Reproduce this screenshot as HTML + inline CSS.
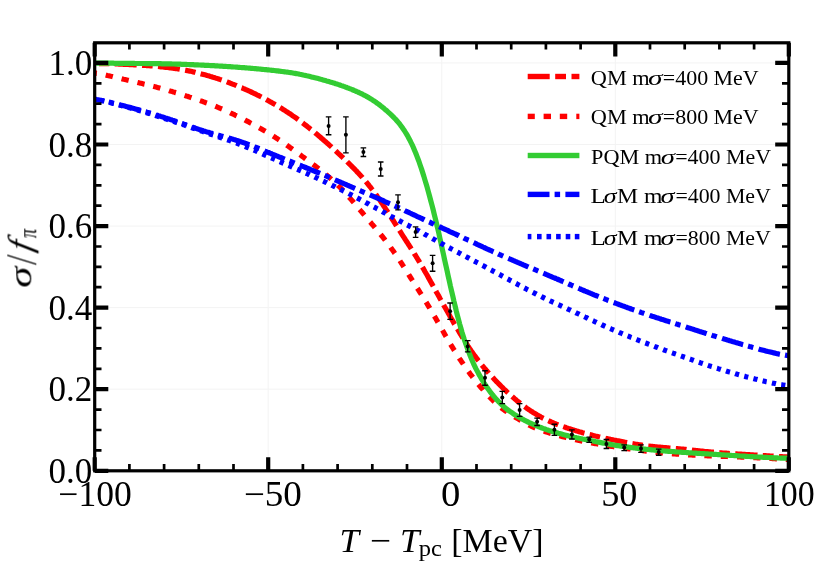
<!DOCTYPE html>
<html lang="en"><head><meta charset="utf-8"><title>sigma / f_pi vs T - T_pc</title>
<style>html,body{margin:0;padding:0;background:#fff;}svg{display:block;}text{font-family:"Liberation Serif","DejaVu Serif",serif;fill:#000;}.it{font-style:italic;}</style></head><body>
<svg width="814" height="564" viewBox="0 0 814 564">
<rect width="814" height="564" fill="#fff"/>
<g stroke="#f3f3f3" stroke-width="1" fill="none">
<line x1="268.2" y1="42.8" x2="268.2" y2="470.8"/>
<line x1="441.8" y1="42.8" x2="441.8" y2="470.8"/>
<line x1="615.3" y1="42.8" x2="615.3" y2="470.8"/>
<line x1="94.7" y1="389.2" x2="788.8" y2="389.2"/>
<line x1="94.7" y1="307.6" x2="788.8" y2="307.6"/>
<line x1="94.7" y1="226.1" x2="788.8" y2="226.1"/>
<line x1="94.7" y1="144.5" x2="788.8" y2="144.5"/>
<line x1="94.7" y1="62.9" x2="788.8" y2="62.9"/>
</g>
<clipPath id="c"><rect x="94.7" y="42.8" width="694.1" height="428.0"/></clipPath>
<g clip-path="url(#c)" fill="none" stroke-width="5.2" stroke-linejoin="round">
<path stroke="#ff0000" stroke-dasharray="22 5.4 10.6 5.3" stroke-dashoffset="23.16" d="M94.7 63.5 L95.9 63.5 L97.0 63.5 L98.2 63.6 L99.3 63.6 L100.5 63.6 L101.7 63.6 L102.8 63.6 L104.0 63.6 L105.1 63.7 L106.3 63.7 L107.4 63.7 L108.6 63.7 L109.8 63.8 L110.9 63.8 L112.1 63.8 L113.2 63.9 L114.4 63.9 L115.6 64.0 L116.7 64.0 L117.9 64.0 L119.0 64.1 L120.2 64.1 L121.4 64.2 L122.5 64.2 L123.7 64.3 L124.8 64.3 L126.0 64.4 L127.1 64.5 L128.3 64.5 L129.5 64.6 L130.6 64.6 L131.8 64.7 L132.9 64.7 L134.1 64.8 L135.3 64.9 L136.4 64.9 L137.6 65.0 L138.7 65.0 L139.9 65.1 L141.1 65.2 L142.2 65.3 L143.4 65.3 L144.5 65.4 L145.7 65.5 L146.8 65.6 L148.0 65.6 L149.2 65.7 L150.3 65.8 L151.5 65.9 L152.6 66.0 L153.8 66.1 L155.0 66.2 L156.1 66.3 L157.3 66.4 L158.4 66.5 L159.6 66.7 L160.7 66.8 L161.9 66.9 L163.1 67.0 L164.2 67.2 L165.4 67.3 L166.5 67.4 L167.7 67.5 L168.9 67.7 L170.0 67.8 L171.2 68.0 L172.3 68.1 L173.5 68.3 L174.7 68.4 L175.8 68.6 L177.0 68.8 L178.1 69.0 L179.3 69.1 L180.4 69.3 L181.6 69.5 L182.8 69.7 L183.9 69.9 L185.1 70.2 L186.2 70.4 L187.4 70.6 L188.6 70.9 L189.7 71.1 L190.9 71.3 L192.0 71.6 L193.2 71.9 L194.4 72.1 L195.5 72.4 L196.7 72.7 L197.8 73.0 L199.0 73.3 L200.1 73.6 L201.3 73.9 L202.5 74.2 L203.6 74.5 L204.8 74.8 L205.9 75.1 L207.1 75.5 L208.3 75.8 L209.4 76.1 L210.6 76.5 L211.7 76.8 L212.9 77.2 L214.1 77.5 L215.2 77.9 L216.4 78.3 L217.5 78.6 L218.7 79.0 L219.8 79.4 L221.0 79.8 L222.2 80.2 L223.3 80.6 L224.5 81.0 L225.6 81.4 L226.8 81.9 L228.0 82.3 L229.1 82.7 L230.3 83.2 L231.4 83.6 L232.6 84.1 L233.8 84.5 L234.9 85.0 L236.1 85.4 L237.2 85.9 L238.4 86.4 L239.5 86.9 L240.7 87.4 L241.9 87.8 L243.0 88.3 L244.2 88.8 L245.3 89.4 L246.5 89.9 L247.7 90.4 L248.8 90.9 L250.0 91.4 L251.1 92.0 L252.3 92.5 L253.5 93.1 L254.6 93.6 L255.8 94.2 L256.9 94.8 L258.1 95.3 L259.2 95.9 L260.4 96.5 L261.6 97.1 L262.7 97.7 L263.9 98.3 L265.0 98.9 L266.2 99.6 L267.4 100.2 L268.5 100.8 L269.7 101.5 L270.8 102.1 L272.0 102.8 L273.1 103.4 L274.3 104.1 L275.5 104.8 L276.6 105.5 L277.8 106.1 L278.9 106.8 L280.1 107.5 L281.3 108.2 L282.4 109.0 L283.6 109.7 L284.7 110.4 L285.9 111.2 L287.1 111.9 L288.2 112.7 L289.4 113.4 L290.5 114.2 L291.7 115.0 L292.8 115.8 L294.0 116.6 L295.2 117.4 L296.3 118.2 L297.5 119.1 L298.6 119.9 L299.8 120.8 L301.0 121.6 L302.1 122.5 L303.3 123.4 L304.4 124.3 L305.6 125.2 L306.8 126.1 L307.9 127.0 L309.1 127.9 L310.2 128.9 L311.4 129.8 L312.5 130.7 L313.7 131.7 L314.9 132.6 L316.0 133.6 L317.2 134.6 L318.3 135.5 L319.5 136.5 L320.7 137.5 L321.8 138.5 L323.0 139.5 L324.1 140.5 L325.3 141.5 L326.5 142.5 L327.6 143.6 L328.8 144.6 L329.9 145.6 L331.1 146.7 L332.2 147.7 L333.4 148.8 L334.6 149.9 L335.7 150.9 L336.9 152.0 L338.0 153.1 L339.2 154.2 L340.4 155.2 L341.5 156.3 L342.7 157.4 L343.8 158.5 L345.0 159.6 L346.2 160.8 L347.3 161.9 L348.5 163.0 L349.6 164.2 L350.8 165.3 L351.9 166.5 L353.1 167.6 L354.3 168.8 L355.4 170.0 L356.6 171.2 L357.7 172.5 L358.9 173.7 L360.1 175.0 L361.2 176.2 L362.4 177.5 L363.5 178.9 L364.7 180.2 L365.9 181.6 L367.0 183.0 L368.2 184.4 L369.3 185.9 L370.5 187.3 L371.6 188.8 L372.8 190.3 L374.0 191.9 L375.1 193.4 L376.3 195.0 L377.4 196.7 L378.6 198.3 L379.8 200.0 L380.9 201.7 L382.1 203.4 L383.2 205.2 L384.4 206.9 L385.5 208.7 L386.7 210.4 L387.9 212.2 L389.0 214.0 L390.2 215.8 L391.3 217.6 L392.5 219.5 L393.7 221.3 L394.8 223.1 L396.0 225.0 L397.1 226.8 L398.3 228.6 L399.5 230.4 L400.6 232.2 L401.8 234.1 L402.9 235.8 L404.1 237.6 L405.2 239.4 L406.4 241.2 L407.6 243.0 L408.7 244.8 L409.9 246.6 L411.0 248.4 L412.2 250.3 L413.4 252.1 L414.5 254.0 L415.7 255.8 L416.8 257.7 L418.0 259.6 L419.2 261.5 L420.3 263.5 L421.5 265.5 L422.6 267.4 L423.8 269.4 L424.9 271.5 L426.1 273.5 L427.3 275.5 L428.4 277.6 L429.6 279.7 L430.7 281.8 L431.9 283.9 L433.1 286.0 L434.2 288.0 L435.4 290.1 L436.5 292.2 L437.7 294.3 L438.9 296.4 L440.0 298.5 L441.2 300.5 L442.3 302.6 L443.5 304.7 L443.7 305.0"/>
<path stroke="#ff0000" stroke-dasharray="22.2 5.4 10.7 5.4" d="M443.7 305.0 L444.6 306.7 L445.8 308.8 L447.0 310.8 L448.1 312.9 L449.3 314.9 L450.4 317.0 L451.6 319.0 L452.8 321.0 L453.9 323.1 L455.1 325.1 L456.2 327.1 L457.4 329.0 L458.6 331.0 L459.7 332.9 L460.9 334.8 L462.0 336.7 L463.2 338.6 L464.3 340.5 L465.5 342.3 L466.7 344.1 L467.8 345.9 L469.0 347.6 L470.1 349.3 L471.3 351.0 L472.5 352.6 L473.6 354.3 L474.8 355.8 L475.9 357.4 L477.1 358.9 L478.3 360.5 L479.4 361.9 L480.6 363.4 L481.7 364.8 L482.9 366.3 L484.0 367.7 L485.2 369.0 L486.4 370.4 L487.5 371.7 L488.7 373.0 L489.8 374.3 L491.0 375.6 L492.2 376.9 L493.3 378.1 L494.5 379.4 L495.6 380.6 L496.8 381.8 L498.0 383.0 L499.1 384.2 L500.3 385.4 L501.4 386.5 L502.6 387.7 L503.7 388.8 L504.9 389.9 L506.1 391.0 L507.2 392.1 L508.4 393.2 L509.5 394.3 L510.7 395.3 L511.9 396.3 L513.0 397.3 L514.2 398.3 L515.3 399.3 L516.5 400.3 L517.6 401.3 L518.8 402.2 L520.0 403.1 L521.1 404.0 L522.3 404.9 L523.4 405.8 L524.6 406.6 L525.8 407.5 L526.9 408.3 L528.1 409.1 L529.2 409.9 L530.4 410.7 L531.6 411.4 L532.7 412.2 L533.9 412.9 L535.0 413.6 L536.2 414.3 L537.3 415.0 L538.5 415.7 L539.7 416.3 L540.8 417.0 L542.0 417.6 L543.1 418.2 L544.3 418.8 L545.5 419.3 L546.6 419.9 L547.8 420.5 L548.9 421.0 L550.1 421.5 L551.3 422.0 L552.4 422.5 L553.6 423.0 L554.7 423.5 L555.9 424.0 L557.0 424.4 L558.2 424.9 L559.4 425.3 L560.5 425.7 L561.7 426.1 L562.8 426.5 L564.0 426.9 L565.2 427.3 L566.3 427.7 L567.5 428.1 L568.6 428.5 L569.8 428.8 L571.0 429.2 L572.1 429.6 L573.3 429.9 L574.4 430.3 L575.6 430.6 L576.7 431.0 L577.9 431.3 L579.1 431.7 L580.2 432.0 L581.4 432.3 L582.5 432.7 L583.7 433.0 L584.9 433.3 L586.0 433.6 L587.2 433.9 L588.3 434.3 L589.5 434.6 L590.7 434.8 L591.8 435.1 L593.0 435.4 L594.1 435.7 L595.3 436.0 L596.4 436.2 L597.6 436.5 L598.8 436.8 L599.9 437.0 L601.1 437.3 L602.2 437.5 L603.4 437.8 L604.6 438.0 L605.7 438.3 L606.9 438.5 L608.0 438.8 L609.2 439.0 L610.4 439.3 L611.5 439.5 L612.7 439.7 L613.8 440.0 L615.0 440.2 L616.1 440.4 L617.3 440.7 L618.5 440.9 L619.6 441.1 L620.8 441.4 L621.9 441.6 L623.1 441.8 L624.3 442.1 L625.4 442.3 L626.6 442.5 L627.7 442.7 L628.9 442.9 L630.0 443.2 L631.2 443.4 L632.4 443.6 L633.5 443.8 L634.7 444.0 L635.8 444.2 L637.0 444.4 L638.2 444.6 L639.3 444.8 L640.5 444.9 L641.6 445.1 L642.8 445.3 L644.0 445.4 L645.1 445.6 L646.3 445.8 L647.4 445.9 L648.6 446.0 L649.7 446.2 L650.9 446.3 L652.1 446.4 L653.2 446.6 L654.4 446.7 L655.5 446.8 L656.7 446.9 L657.9 447.0 L659.0 447.1 L660.2 447.2 L661.3 447.3 L662.5 447.4 L663.7 447.5 L664.8 447.6 L666.0 447.7 L667.1 447.8 L668.3 447.9 L669.4 448.0 L670.6 448.1 L671.8 448.2 L672.9 448.3 L674.1 448.4 L675.2 448.5 L676.4 448.6 L677.6 448.7 L678.7 448.8 L679.9 448.9 L681.0 449.0 L682.2 449.1 L683.4 449.2 L684.5 449.3 L685.7 449.4 L686.8 449.6 L688.0 449.7 L689.1 449.8 L690.3 449.9 L691.5 450.0 L692.6 450.2 L693.8 450.3 L694.9 450.4 L696.1 450.5 L697.3 450.6 L698.4 450.8 L699.6 450.9 L700.7 451.0 L701.9 451.1 L703.1 451.2 L704.2 451.4 L705.4 451.5 L706.5 451.6 L707.7 451.7 L708.8 451.8 L710.0 451.9 L711.2 452.0 L712.3 452.1 L713.5 452.2 L714.6 452.3 L715.8 452.4 L717.0 452.5 L718.1 452.6 L719.3 452.7 L720.4 452.8 L721.6 452.9 L722.8 453.0 L723.9 453.1 L725.1 453.2 L726.2 453.2 L727.4 453.3 L728.5 453.4 L729.7 453.5 L730.9 453.5 L732.0 453.6 L733.2 453.7 L734.3 453.8 L735.5 453.8 L736.7 453.9 L737.8 454.0 L739.0 454.1 L740.1 454.1 L741.3 454.2 L742.4 454.3 L743.6 454.3 L744.8 454.4 L745.9 454.5 L747.1 454.5 L748.2 454.6 L749.4 454.7 L750.6 454.8 L751.7 454.8 L752.9 454.9 L754.0 455.0 L755.2 455.0 L756.4 455.1 L757.5 455.2 L758.7 455.3 L759.8 455.3 L761.0 455.4 L762.1 455.5 L763.3 455.5 L764.5 455.6 L765.6 455.7 L766.8 455.8 L767.9 455.8 L769.1 455.9 L770.3 456.0 L771.4 456.1 L772.6 456.1 L773.7 456.2 L774.9 456.3 L776.1 456.4 L777.2 456.4 L778.4 456.5 L779.5 456.6 L780.7 456.7 L781.8 456.7 L783.0 456.8 L784.2 456.8 L785.3 456.9 L786.5 456.9 L787.6 457.0 L788.8 457.2"/>
<path stroke="#ff0000" stroke-dasharray="7.3 9" stroke-dashoffset="4.88" d="M94.7 72.5 L95.9 73.3 L97.0 73.4 L98.2 73.6 L99.3 73.8 L100.5 74.0 L101.7 74.2 L102.8 74.4 L104.0 74.7 L105.1 74.9 L106.3 75.2 L107.4 75.5 L108.6 75.7 L109.8 76.0 L110.9 76.3 L112.1 76.5 L113.2 76.8 L114.4 77.1 L115.6 77.4 L116.7 77.6 L117.9 77.9 L119.0 78.2 L120.2 78.4 L121.4 78.7 L122.5 79.0 L123.7 79.3 L124.8 79.5 L126.0 79.8 L127.1 80.1 L128.3 80.3 L129.5 80.6 L130.6 80.9 L131.8 81.2 L132.9 81.4 L134.1 81.7 L135.3 82.0 L136.4 82.2 L137.6 82.5 L138.7 82.8 L139.9 83.1 L141.1 83.3 L142.2 83.6 L143.4 83.9 L144.5 84.2 L145.7 84.4 L146.8 84.7 L148.0 85.0 L149.2 85.3 L150.3 85.6 L151.5 85.9 L152.6 86.2 L153.8 86.5 L155.0 86.8 L156.1 87.1 L157.3 87.4 L158.4 87.7 L159.6 88.0 L160.7 88.3 L161.9 88.6 L163.1 89.0 L164.2 89.3 L165.4 89.6 L166.5 89.9 L167.7 90.3 L168.9 90.6 L170.0 91.0 L171.2 91.3 L172.3 91.6 L173.5 92.0 L174.7 92.3 L175.8 92.7 L177.0 93.0 L178.1 93.4 L179.3 93.8 L180.4 94.1 L181.6 94.5 L182.8 94.8 L183.9 95.2 L185.1 95.6 L186.2 96.0 L187.4 96.3 L188.6 96.7 L189.7 97.1 L190.9 97.5 L192.0 97.9 L193.2 98.2 L194.4 98.6 L195.5 99.0 L196.7 99.4 L197.8 99.8 L199.0 100.2 L200.1 100.6 L201.3 101.0 L202.5 101.4 L203.6 101.9 L204.8 102.3 L205.9 102.7 L207.1 103.1 L208.3 103.6 L209.4 104.0 L210.6 104.4 L211.7 104.9 L212.9 105.3 L214.1 105.8 L215.2 106.2 L216.4 106.7 L217.5 107.2 L218.7 107.7 L219.8 108.1 L221.0 108.6 L222.2 109.1 L223.3 109.6 L224.5 110.1 L225.6 110.7 L226.8 111.2 L228.0 111.7 L229.1 112.2 L230.3 112.8 L231.4 113.3 L232.6 113.9 L233.8 114.4 L234.9 115.0 L236.1 115.6 L237.2 116.1 L238.4 116.7 L239.5 117.3 L240.7 117.9 L241.9 118.4 L243.0 119.0 L244.2 119.6 L245.3 120.2 L246.5 120.8 L247.7 121.4 L248.8 122.0 L250.0 122.7 L251.1 123.3 L252.3 123.9 L253.5 124.5 L254.6 125.2 L255.8 125.8 L256.9 126.4 L258.1 127.1 L259.2 127.7 L260.4 128.4 L261.6 129.1 L262.7 129.7 L263.9 130.4 L265.0 131.1 L266.2 131.8 L267.4 132.5 L268.5 133.2 L269.7 133.9 L270.8 134.6 L272.0 135.3 L273.1 136.0 L274.3 136.8 L275.5 137.5 L276.6 138.3 L277.8 139.0 L278.9 139.8 L280.1 140.6 L281.3 141.3 L282.4 142.1 L283.6 142.9 L284.7 143.7 L285.9 144.5 L287.1 145.4 L288.2 146.2 L289.4 147.0 L290.5 147.8 L291.7 148.7 L292.8 149.5 L294.0 150.4 L295.2 151.2 L296.3 152.0 L297.5 152.9 L298.6 153.7 L299.8 154.6 L301.0 155.4 L302.1 156.3 L303.3 157.1 L304.4 158.0 L305.6 158.8 L306.8 159.7 L307.9 160.5 L309.1 161.4 L310.2 162.2 L311.4 163.1 L312.5 164.0 L313.7 164.9 L314.9 165.7 L316.0 166.6 L317.2 167.5 L318.3 168.4 L319.5 169.3 L320.7 170.2 L321.8 171.2 L323.0 172.1 L324.1 173.0 L325.3 174.0 L326.5 175.0 L327.6 175.9 L328.8 176.9 L329.9 177.9 L331.1 178.9 L332.2 179.9 L333.4 181.0 L334.6 182.1 L335.7 183.1 L336.9 184.2 L338.0 185.4 L339.2 186.5 L340.4 187.7 L341.5 188.8 L342.7 190.1 L343.8 191.3 L345.0 192.5 L346.2 193.8 L347.3 195.1 L348.5 196.4 L349.6 197.7 L350.8 199.1 L351.9 200.4 L353.1 201.8 L354.3 203.2 L355.4 204.6 L356.6 205.9 L357.7 207.3 L358.9 208.7 L360.1 210.1 L361.2 211.4 L362.4 212.8 L363.5 214.1 L364.7 215.5 L365.9 216.9 L367.0 218.2 L368.2 219.6 L369.3 221.0 L370.5 222.3 L371.6 223.7 L372.8 225.1 L374.0 226.4 L375.1 227.8 L376.3 229.2 L377.4 230.6 L378.6 232.0 L379.8 233.4 L380.9 234.8 L382.1 236.2 L383.2 237.6 L384.4 239.1 L385.5 240.6 L386.7 242.1 L387.9 243.6 L389.0 245.2 L390.2 246.8 L391.3 248.4 L392.5 250.0 L393.7 251.6 L394.8 253.3 L396.0 254.9 L397.1 256.6 L398.3 258.4 L399.5 260.1 L400.6 261.9 L401.8 263.7 L402.9 265.5 L404.1 267.3 L405.2 269.1 L406.4 271.0 L407.6 272.8 L408.7 274.6 L409.9 276.5 L411.0 278.3 L412.2 280.1 L413.4 282.0 L414.5 283.8 L415.7 285.6 L416.8 287.4 L418.0 289.2 L419.2 291.1 L420.3 292.9 L421.5 294.7 L422.6 296.6 L423.8 298.4 L424.9 300.3 L426.1 302.2 L427.3 304.1 L428.4 306.0 L429.6 307.9 L430.7 309.8 L431.9 311.8 L433.1 313.8 L434.2 315.8 L435.4 317.8 L436.5 319.8 L437.7 321.9 L438.9 323.9 L440.0 325.9 L441.2 328.0 L442.3 330.0 L443.5 332.0 L444.6 334.1 L445.8 336.1 L447.0 338.1 L448.1 340.1 L449.3 342.1 L450.4 344.0 L451.6 346.0 L452.8 347.9 L453.9 349.8 L455.1 351.6 L456.2 353.5 L457.4 355.3 L458.6 357.1 L459.7 358.9 L460.9 360.6 L462.0 362.3 L463.2 364.0 L464.3 365.7 L465.5 367.4 L466.7 369.0 L467.8 370.6 L469.0 372.2 L470.1 373.8 L471.3 375.3 L472.5 376.9 L473.6 378.4 L474.8 379.9 L475.9 381.3 L477.1 382.8 L478.3 384.2 L479.4 385.6 L480.6 387.0 L481.7 388.3 L482.9 389.6 L484.0 391.0 L485.2 392.3 L486.4 393.5 L487.5 394.8 L488.7 396.0 L489.8 397.2 L491.0 398.4 L492.2 399.6 L493.3 400.8 L494.5 401.9 L495.6 403.0 L496.8 404.0 L498.0 405.0 L499.1 406.0 L500.3 407.0 L501.4 407.9 L502.6 408.8 L503.7 409.7 L504.9 410.5 L506.1 411.3 L507.2 412.1 L508.4 412.9 L509.5 413.7 L510.7 414.4 L511.9 415.1 L513.0 415.8 L514.2 416.5 L515.3 417.2 L516.5 417.9 L517.6 418.6 L518.8 419.3 L520.0 420.0 L521.1 420.7 L522.3 421.3 L523.4 422.0 L524.6 422.6 L525.8 423.3 L526.9 423.9 L528.1 424.5 L529.2 425.1 L530.4 425.7 L531.6 426.3 L532.7 426.8 L533.9 427.4 L535.0 427.9 L536.2 428.4 L537.3 428.8 L538.5 429.3 L539.7 429.7 L540.8 430.1 L542.0 430.5 L543.1 430.9 L544.3 431.3 L545.5 431.7 L546.6 432.1 L547.8 432.4 L548.9 432.8 L550.1 433.2 L551.3 433.5 L552.4 433.8 L553.6 434.2 L554.7 434.5 L555.9 434.9 L557.0 435.2 L558.2 435.5 L559.4 435.8 L560.5 436.1 L561.7 436.4 L562.8 436.7 L564.0 437.0 L565.2 437.3 L566.3 437.6 L567.5 437.9 L568.6 438.2 L569.8 438.4 L571.0 438.7 L572.1 439.0 L573.3 439.2 L574.4 439.5 L575.6 439.8 L576.7 440.0 L577.9 440.2 L579.1 440.5 L580.2 440.7 L581.4 441.0 L582.5 441.2 L583.7 441.4 L584.9 441.7 L586.0 441.9 L587.2 442.1 L588.3 442.3 L589.5 442.5 L590.7 442.8 L591.8 443.0 L593.0 443.2 L594.1 443.4 L595.3 443.6 L596.4 443.8 L597.6 444.0 L598.8 444.2 L599.9 444.4 L601.1 444.6 L602.2 444.8 L603.4 445.0 L604.6 445.2 L605.7 445.4 L606.9 445.6 L608.0 445.8 L609.2 446.0 L610.4 446.2 L611.5 446.4 L612.7 446.5 L613.8 446.7 L615.0 446.9 L616.1 447.1 L617.3 447.2 L618.5 447.4 L619.6 447.6 L620.8 447.7 L621.9 447.9 L623.1 448.1 L624.3 448.2 L625.4 448.4 L626.6 448.6 L627.7 448.7 L628.9 448.9 L630.0 449.0 L631.2 449.2 L632.4 449.3 L633.5 449.5 L634.7 449.6 L635.8 449.8 L637.0 449.9 L638.2 450.1 L639.3 450.2 L640.5 450.4 L641.6 450.5 L642.8 450.7 L644.0 450.8 L645.1 450.9 L646.3 451.1 L647.4 451.2 L648.6 451.4 L649.7 451.5 L650.9 451.6 L652.1 451.8 L653.2 451.9 L654.4 452.0 L655.5 452.1 L656.7 452.3 L657.9 452.4 L659.0 452.5 L660.2 452.6 L661.3 452.8 L662.5 452.9 L663.7 453.0 L664.8 453.1 L666.0 453.2 L667.1 453.3 L668.3 453.4 L669.4 453.5 L670.6 453.6 L671.8 453.7 L672.9 453.8 L674.1 453.9 L675.2 454.0 L676.4 454.1 L677.6 454.1 L678.7 454.2 L679.9 454.3 L681.0 454.4 L682.2 454.5 L683.4 454.5 L684.5 454.6 L685.7 454.7 L686.8 454.7 L688.0 454.8 L689.1 454.9 L690.3 454.9 L691.5 455.0 L692.6 455.1 L693.8 455.1 L694.9 455.2 L696.1 455.2 L697.3 455.3 L698.4 455.3 L699.6 455.4 L700.7 455.4 L701.9 455.5 L703.1 455.6 L704.2 455.6 L705.4 455.7 L706.5 455.7 L707.7 455.8 L708.8 455.8 L710.0 455.9 L711.2 455.9 L712.3 455.9 L713.5 456.0 L714.6 456.0 L715.8 456.1 L717.0 456.1 L718.1 456.2 L719.3 456.2 L720.4 456.3 L721.6 456.3 L722.8 456.4 L723.9 456.4 L725.1 456.4 L726.2 456.5 L727.4 456.5 L728.5 456.6 L729.7 456.6 L730.9 456.7 L732.0 456.7 L733.2 456.7 L734.3 456.8 L735.5 456.8 L736.7 456.9 L737.8 456.9 L739.0 457.0 L740.1 457.0 L741.3 457.1 L742.4 457.1 L743.6 457.2 L744.8 457.2 L745.9 457.3 L747.1 457.3 L748.2 457.4 L749.4 457.4 L750.6 457.5 L751.7 457.5 L752.9 457.6 L754.0 457.6 L755.2 457.7 L756.4 457.7 L757.5 457.8 L758.7 457.8 L759.8 457.9 L761.0 458.0 L762.1 458.0 L763.3 458.1 L764.5 458.1 L765.6 458.2 L766.8 458.3 L767.9 458.3 L769.1 458.4 L770.3 458.5 L771.4 458.5 L772.6 458.6 L773.7 458.6 L774.9 458.7 L776.1 458.8 L777.2 458.8 L778.4 458.9 L779.5 459.0 L780.7 459.0 L781.8 459.1 L783.0 459.1 L784.2 459.2 L785.3 459.2 L786.5 459.3 L787.6 459.3 L788.8 459.5"/>
<path stroke="#33cc33" d="M94.7 63.0 L95.9 63.0 L97.0 63.1 L98.2 63.1 L99.3 63.1 L100.5 63.1 L101.7 63.1 L102.8 63.1 L104.0 63.1 L105.1 63.1 L106.3 63.2 L107.4 63.2 L108.6 63.2 L109.8 63.2 L110.9 63.2 L112.1 63.2 L113.2 63.2 L114.4 63.3 L115.6 63.3 L116.7 63.3 L117.9 63.3 L119.0 63.3 L120.2 63.3 L121.4 63.3 L122.5 63.3 L123.7 63.4 L124.8 63.4 L126.0 63.4 L127.1 63.4 L128.3 63.4 L129.5 63.4 L130.6 63.4 L131.8 63.4 L132.9 63.4 L134.1 63.4 L135.3 63.5 L136.4 63.5 L137.6 63.5 L138.7 63.5 L139.9 63.5 L141.1 63.5 L142.2 63.5 L143.4 63.5 L144.5 63.5 L145.7 63.6 L146.8 63.6 L148.0 63.6 L149.2 63.6 L150.3 63.6 L151.5 63.6 L152.6 63.6 L153.8 63.6 L155.0 63.7 L156.1 63.7 L157.3 63.7 L158.4 63.7 L159.6 63.7 L160.7 63.7 L161.9 63.8 L163.1 63.8 L164.2 63.8 L165.4 63.8 L166.5 63.8 L167.7 63.9 L168.9 63.9 L170.0 63.9 L171.2 63.9 L172.3 64.0 L173.5 64.0 L174.7 64.0 L175.8 64.1 L177.0 64.1 L178.1 64.1 L179.3 64.2 L180.4 64.2 L181.6 64.3 L182.8 64.3 L183.9 64.3 L185.1 64.4 L186.2 64.4 L187.4 64.5 L188.6 64.5 L189.7 64.6 L190.9 64.6 L192.0 64.7 L193.2 64.7 L194.4 64.8 L195.5 64.8 L196.7 64.9 L197.8 64.9 L199.0 65.0 L200.1 65.0 L201.3 65.1 L202.5 65.2 L203.6 65.2 L204.8 65.3 L205.9 65.3 L207.1 65.4 L208.3 65.4 L209.4 65.5 L210.6 65.6 L211.7 65.6 L212.9 65.7 L214.1 65.7 L215.2 65.8 L216.4 65.9 L217.5 65.9 L218.7 66.0 L219.8 66.1 L221.0 66.1 L222.2 66.2 L223.3 66.3 L224.5 66.3 L225.6 66.4 L226.8 66.5 L228.0 66.6 L229.1 66.6 L230.3 66.7 L231.4 66.8 L232.6 66.9 L233.8 67.0 L234.9 67.0 L236.1 67.1 L237.2 67.2 L238.4 67.3 L239.5 67.4 L240.7 67.5 L241.9 67.6 L243.0 67.7 L244.2 67.7 L245.3 67.8 L246.5 67.9 L247.7 68.0 L248.8 68.1 L250.0 68.2 L251.1 68.3 L252.3 68.4 L253.5 68.5 L254.6 68.6 L255.8 68.7 L256.9 68.8 L258.1 68.9 L259.2 69.0 L260.4 69.1 L261.6 69.3 L262.7 69.4 L263.9 69.5 L265.0 69.6 L266.2 69.7 L267.4 69.8 L268.5 69.9 L269.7 70.0 L270.8 70.2 L272.0 70.3 L273.1 70.4 L274.3 70.5 L275.5 70.7 L276.6 70.8 L277.8 70.9 L278.9 71.1 L280.1 71.2 L281.3 71.4 L282.4 71.5 L283.6 71.7 L284.7 71.8 L285.9 72.0 L287.1 72.1 L288.2 72.3 L289.4 72.5 L290.5 72.6 L291.7 72.8 L292.8 73.0 L294.0 73.2 L295.2 73.4 L296.3 73.6 L297.5 73.8 L298.6 74.0 L299.8 74.3 L301.0 74.5 L302.1 74.7 L303.3 75.0 L304.4 75.2 L305.6 75.5 L306.8 75.8 L307.9 76.0 L309.1 76.3 L310.2 76.6 L311.4 76.9 L312.5 77.2 L313.7 77.4 L314.9 77.7 L316.0 78.0 L317.2 78.3 L318.3 78.6 L319.5 78.9 L320.7 79.3 L321.8 79.6 L323.0 79.9 L324.1 80.2 L325.3 80.5 L326.5 80.9 L327.6 81.2 L328.8 81.5 L329.9 81.9 L331.1 82.2 L332.2 82.6 L333.4 82.9 L334.6 83.3 L335.7 83.7 L336.9 84.0 L338.0 84.4 L339.2 84.8 L340.4 85.2 L341.5 85.6 L342.7 86.0 L343.8 86.4 L345.0 86.8 L346.2 87.3 L347.3 87.7 L348.5 88.1 L349.6 88.6 L350.8 89.0 L351.9 89.5 L353.1 90.0 L354.3 90.5 L355.4 91.0 L356.6 91.5 L357.7 92.0 L358.9 92.5 L360.1 93.1 L361.2 93.6 L362.4 94.2 L363.5 94.8 L364.7 95.4 L365.9 96.0 L367.0 96.7 L368.2 97.3 L369.3 98.0 L370.5 98.7 L371.6 99.4 L372.8 100.2 L374.0 100.9 L375.1 101.7 L376.3 102.5 L377.4 103.4 L378.6 104.2 L379.8 105.1 L380.9 106.0 L382.1 106.9 L383.2 107.8 L384.4 108.8 L385.5 109.8 L386.7 110.7 L387.9 111.8 L389.0 112.8 L390.2 113.9 L391.3 115.0 L392.5 116.1 L393.7 117.3 L394.8 118.5 L396.0 119.7 L397.1 121.0 L398.3 122.4 L399.5 123.8 L400.6 125.3 L401.8 126.8 L402.9 128.5 L404.1 130.2 L405.2 132.0 L406.4 133.9 L407.6 135.9 L408.7 138.0 L409.9 140.2 L411.0 142.5 L412.2 144.9 L413.4 147.5 L414.5 150.2 L415.7 153.0 L416.8 155.9 L418.0 159.0 L419.2 162.2 L420.3 165.5 L421.5 168.9 L422.6 172.4 L423.8 176.1 L424.9 179.9 L426.1 183.8 L427.3 187.8 L428.4 191.9 L429.6 196.2 L430.7 200.5 L431.9 204.9 L433.1 209.5 L434.2 214.1 L435.4 218.8 L436.5 223.6 L437.7 228.5 L438.9 233.5 L440.0 238.7 L441.2 243.9 L442.3 249.2 L443.5 254.5 L444.6 259.8 L445.8 265.1 L447.0 270.4 L448.1 275.6 L449.3 280.8 L450.4 286.0 L451.6 291.1 L452.8 296.1 L453.9 301.1 L455.1 305.9 L456.2 310.7 L457.4 315.3 L458.6 319.8 L459.7 324.1 L460.9 328.3 L462.0 332.2 L463.2 336.0 L464.3 339.6 L465.5 343.0 L466.7 346.3 L467.8 349.5 L469.0 352.6 L470.1 355.6 L471.3 358.4 L472.5 361.2 L473.6 363.8 L474.8 366.3 L475.9 368.6 L477.1 370.9 L478.3 373.1 L479.4 375.2 L480.6 377.2 L481.7 379.2 L482.9 381.1 L484.0 382.9 L485.2 384.7 L486.4 386.4 L487.5 388.1 L488.7 389.7 L489.8 391.3 L491.0 392.8 L492.2 394.3 L493.3 395.7 L494.5 397.1 L495.6 398.4 L496.8 399.7 L498.0 401.0 L499.1 402.2 L500.3 403.3 L501.4 404.4 L502.6 405.5 L503.7 406.6 L504.9 407.6 L506.1 408.5 L507.2 409.4 L508.4 410.3 L509.5 411.1 L510.7 411.9 L511.9 412.7 L513.0 413.5 L514.2 414.3 L515.3 415.0 L516.5 415.7 L517.6 416.4 L518.8 417.1 L520.0 417.7 L521.1 418.4 L522.3 419.0 L523.4 419.7 L524.6 420.3 L525.8 420.9 L526.9 421.5 L528.1 422.0 L529.2 422.6 L530.4 423.1 L531.6 423.7 L532.7 424.2 L533.9 424.7 L535.0 425.2 L536.2 425.7 L537.3 426.2 L538.5 426.7 L539.7 427.1 L540.8 427.5 L542.0 428.0 L543.1 428.4 L544.3 428.8 L545.5 429.2 L546.6 429.6 L547.8 430.0 L548.9 430.4 L550.1 430.7 L551.3 431.1 L552.4 431.5 L553.6 431.8 L554.7 432.2 L555.9 432.5 L557.0 432.8 L558.2 433.2 L559.4 433.5 L560.5 433.8 L561.7 434.1 L562.8 434.4 L564.0 434.8 L565.2 435.1 L566.3 435.4 L567.5 435.6 L568.6 435.9 L569.8 436.2 L571.0 436.5 L572.1 436.7 L573.3 437.0 L574.4 437.3 L575.6 437.5 L576.7 437.8 L577.9 438.0 L579.1 438.3 L580.2 438.5 L581.4 438.7 L582.5 439.0 L583.7 439.2 L584.9 439.4 L586.0 439.6 L587.2 439.9 L588.3 440.1 L589.5 440.3 L590.7 440.6 L591.8 440.8 L593.0 441.0 L594.1 441.2 L595.3 441.5 L596.4 441.7 L597.6 441.9 L598.8 442.2 L599.9 442.4 L601.1 442.6 L602.2 442.9 L603.4 443.1 L604.6 443.3 L605.7 443.5 L606.9 443.7 L608.0 444.0 L609.2 444.2 L610.4 444.4 L611.5 444.6 L612.7 444.8 L613.8 445.0 L615.0 445.2 L616.1 445.4 L617.3 445.6 L618.5 445.7 L619.6 445.9 L620.8 446.1 L621.9 446.3 L623.1 446.4 L624.3 446.6 L625.4 446.8 L626.6 446.9 L627.7 447.1 L628.9 447.2 L630.0 447.4 L631.2 447.6 L632.4 447.7 L633.5 447.8 L634.7 448.0 L635.8 448.1 L637.0 448.3 L638.2 448.4 L639.3 448.5 L640.5 448.7 L641.6 448.8 L642.8 448.9 L644.0 449.1 L645.1 449.2 L646.3 449.3 L647.4 449.4 L648.6 449.5 L649.7 449.6 L650.9 449.8 L652.1 449.9 L653.2 450.0 L654.4 450.1 L655.5 450.2 L656.7 450.3 L657.9 450.4 L659.0 450.5 L660.2 450.6 L661.3 450.7 L662.5 450.8 L663.7 450.9 L664.8 451.0 L666.0 451.1 L667.1 451.2 L668.3 451.3 L669.4 451.4 L670.6 451.4 L671.8 451.5 L672.9 451.6 L674.1 451.7 L675.2 451.8 L676.4 451.9 L677.6 452.0 L678.7 452.0 L679.9 452.1 L681.0 452.2 L682.2 452.3 L683.4 452.4 L684.5 452.5 L685.7 452.5 L686.8 452.6 L688.0 452.7 L689.1 452.8 L690.3 452.8 L691.5 452.9 L692.6 453.0 L693.8 453.1 L694.9 453.1 L696.1 453.2 L697.3 453.3 L698.4 453.4 L699.6 453.4 L700.7 453.5 L701.9 453.6 L703.1 453.6 L704.2 453.7 L705.4 453.8 L706.5 453.9 L707.7 453.9 L708.8 454.0 L710.0 454.1 L711.2 454.1 L712.3 454.2 L713.5 454.3 L714.6 454.4 L715.8 454.4 L717.0 454.5 L718.1 454.6 L719.3 454.6 L720.4 454.7 L721.6 454.8 L722.8 454.9 L723.9 454.9 L725.1 455.0 L726.2 455.1 L727.4 455.2 L728.5 455.2 L729.7 455.3 L730.9 455.4 L732.0 455.5 L733.2 455.5 L734.3 455.6 L735.5 455.7 L736.7 455.7 L737.8 455.8 L739.0 455.9 L740.1 456.0 L741.3 456.0 L742.4 456.1 L743.6 456.2 L744.8 456.2 L745.9 456.3 L747.1 456.4 L748.2 456.5 L749.4 456.5 L750.6 456.6 L751.7 456.7 L752.9 456.7 L754.0 456.8 L755.2 456.8 L756.4 456.9 L757.5 457.0 L758.7 457.0 L759.8 457.1 L761.0 457.1 L762.1 457.2 L763.3 457.3 L764.5 457.3 L765.6 457.4 L766.8 457.4 L767.9 457.5 L769.1 457.5 L770.3 457.6 L771.4 457.7 L772.6 457.7 L773.7 457.8 L774.9 457.8 L776.1 457.9 L777.2 457.9 L778.4 458.0 L779.5 458.0 L780.7 458.1 L781.8 458.1 L783.0 458.1 L784.2 458.2 L785.3 458.2 L786.5 458.2 L787.6 458.3 L788.8 458.4"/>
<path stroke="#0000ff" stroke-dasharray="22 5.1 5.5 5.5" stroke-dashoffset="12.63" d="M94.7 98.8 L95.9 99.6 L97.0 99.7 L98.2 99.9 L99.3 100.1 L100.5 100.3 L101.7 100.5 L102.8 100.7 L104.0 100.9 L105.1 101.2 L106.3 101.5 L107.4 101.7 L108.6 102.0 L109.8 102.3 L110.9 102.6 L112.1 102.9 L113.2 103.2 L114.4 103.4 L115.6 103.7 L116.7 104.0 L117.9 104.3 L119.0 104.6 L120.2 104.9 L121.4 105.2 L122.5 105.5 L123.7 105.8 L124.8 106.1 L126.0 106.4 L127.1 106.7 L128.3 107.0 L129.5 107.3 L130.6 107.6 L131.8 107.9 L132.9 108.3 L134.1 108.6 L135.3 108.9 L136.4 109.2 L137.6 109.5 L138.7 109.8 L139.9 110.2 L141.1 110.5 L142.2 110.8 L143.4 111.2 L144.5 111.5 L145.7 111.8 L146.8 112.2 L148.0 112.5 L149.2 112.8 L150.3 113.2 L151.5 113.5 L152.6 113.9 L153.8 114.2 L155.0 114.6 L156.1 114.9 L157.3 115.3 L158.4 115.7 L159.6 116.0 L160.7 116.4 L161.9 116.8 L163.1 117.1 L164.2 117.5 L165.4 117.9 L166.5 118.2 L167.7 118.6 L168.9 119.0 L170.0 119.4 L171.2 119.7 L172.3 120.1 L173.5 120.5 L174.7 120.9 L175.8 121.3 L177.0 121.7 L178.1 122.1 L179.3 122.5 L180.4 122.9 L181.6 123.3 L182.8 123.7 L183.9 124.1 L185.1 124.5 L186.2 124.9 L187.4 125.3 L188.6 125.7 L189.7 126.2 L190.9 126.6 L192.0 127.0 L193.2 127.4 L194.4 127.8 L195.5 128.2 L196.7 128.6 L197.8 129.0 L199.0 129.4 L200.1 129.7 L201.3 130.1 L202.5 130.5 L203.6 130.9 L204.8 131.2 L205.9 131.6 L207.1 132.0 L208.3 132.3 L209.4 132.6 L210.6 133.0 L211.7 133.3 L212.9 133.7 L214.1 134.0 L215.2 134.3 L216.4 134.6 L217.5 134.9 L218.7 135.3 L219.8 135.6 L221.0 135.9 L222.2 136.2 L223.3 136.5 L224.5 136.8 L225.6 137.1 L226.8 137.5 L228.0 137.8 L229.1 138.1 L230.3 138.4 L231.4 138.8 L232.6 139.1 L233.8 139.5 L234.9 139.8 L236.1 140.2 L237.2 140.5 L238.4 140.9 L239.5 141.3 L240.7 141.7 L241.9 142.1 L243.0 142.5 L244.2 142.9 L245.3 143.3 L246.5 143.7 L247.7 144.1 L248.8 144.6 L250.0 145.0 L251.1 145.4 L252.3 145.9 L253.5 146.3 L254.6 146.8 L255.8 147.3 L256.9 147.7 L258.1 148.2 L259.2 148.7 L260.4 149.2 L261.6 149.6 L262.7 150.1 L263.9 150.6 L265.0 151.1 L266.2 151.6 L267.4 152.1 L268.5 152.5 L269.7 153.0 L270.8 153.5 L272.0 154.0 L273.1 154.5 L274.3 154.9 L275.5 155.4 L276.6 155.9 L277.8 156.3 L278.9 156.8 L280.1 157.3 L281.3 157.7 L282.4 158.2 L283.6 158.7 L284.7 159.1 L285.9 159.6 L287.1 160.1 L288.2 160.5 L289.4 161.0 L290.5 161.4 L291.7 161.9 L292.8 162.4 L294.0 162.8 L295.2 163.3 L296.3 163.8 L297.5 164.2 L298.6 164.7 L299.8 165.1 L301.0 165.6 L302.1 166.1 L303.3 166.5 L304.4 167.0 L305.6 167.5 L306.8 168.0 L307.9 168.4 L309.1 168.9 L310.2 169.4 L311.4 169.9 L312.5 170.3 L313.7 170.8 L314.9 171.3 L316.0 171.8 L317.2 172.3 L318.3 172.7 L319.5 173.2 L320.7 173.7 L321.8 174.2 L323.0 174.7 L324.1 175.2 L325.3 175.7 L326.5 176.2 L327.6 176.7 L328.8 177.2 L329.9 177.7 L331.1 178.2 L332.2 178.7 L333.4 179.2 L334.6 179.7 L335.7 180.2 L336.9 180.7 L338.0 181.2 L339.2 181.7 L340.4 182.2 L341.5 182.7 L342.7 183.2 L343.8 183.7 L345.0 184.2 L346.2 184.7 L347.3 185.2 L348.5 185.7 L349.6 186.2 L350.8 186.7 L351.9 187.2 L353.1 187.7 L354.3 188.2 L355.4 188.7 L356.6 189.2 L357.7 189.7 L358.9 190.2 L360.1 190.7 L361.2 191.2 L362.4 191.7 L363.5 192.2 L364.7 192.7 L365.9 193.2 L367.0 193.7 L368.2 194.2 L369.3 194.7 L370.5 195.2 L371.6 195.7 L372.8 196.2 L374.0 196.7 L375.1 197.2 L376.3 197.7 L377.4 198.2 L378.6 198.7 L379.8 199.2 L380.9 199.7 L382.1 200.2 L383.2 200.7 L384.4 201.3 L385.5 201.8 L386.7 202.3 L387.9 202.8 L389.0 203.3 L390.2 203.8 L391.3 204.4 L392.5 204.9 L393.7 205.4 L394.8 205.9 L396.0 206.5 L397.1 207.0 L398.3 207.5 L399.5 208.1 L400.6 208.6 L401.8 209.2 L402.9 209.7 L404.1 210.2 L405.2 210.8 L406.4 211.3 L407.6 211.9 L408.7 212.4 L409.9 213.0 L411.0 213.5 L412.2 214.1 L413.4 214.6 L414.5 215.2 L415.7 215.7 L416.8 216.3 L418.0 216.8 L419.2 217.3 L420.3 217.9 L421.5 218.4 L422.6 219.0 L423.8 219.5 L424.9 220.1 L426.1 220.6 L427.3 221.1 L428.4 221.7 L429.6 222.2 L430.7 222.7 L431.9 223.3 L433.1 223.8 L434.2 224.4 L435.4 224.9 L436.5 225.4 L437.7 225.9 L438.9 226.5 L440.0 227.0 L441.2 227.5 L442.3 228.1 L443.5 228.6 L444.6 229.1 L445.8 229.7 L447.0 230.2 L448.1 230.7 L449.3 231.3 L450.4 231.8 L451.6 232.3 L452.8 232.9 L453.9 233.4 L455.1 233.9 L456.2 234.5 L457.4 235.0 L458.6 235.5 L459.7 236.1 L460.9 236.6 L462.0 237.2 L463.2 237.7 L464.3 238.3 L465.5 238.8 L466.7 239.3 L467.8 239.9 L469.0 240.4 L470.1 241.0 L471.3 241.5 L472.5 242.1 L473.6 242.6 L474.8 243.2 L475.9 243.7 L477.1 244.3 L478.3 244.8 L479.4 245.3 L480.6 245.9 L481.7 246.4 L482.9 247.0 L484.0 247.5 L485.2 248.0 L486.4 248.6 L487.5 249.1 L488.7 249.6 L489.8 250.2 L491.0 250.7 L492.2 251.2 L493.3 251.8 L494.5 252.3 L495.6 252.8 L496.8 253.3 L498.0 253.8 L499.1 254.4 L500.3 254.9 L501.4 255.4 L502.6 255.9 L503.7 256.4 L504.9 256.9 L506.1 257.4 L507.2 257.9 L508.4 258.4 L509.5 258.9 L510.7 259.4 L511.9 259.9 L513.0 260.4 L514.2 260.9 L515.3 261.4 L516.5 261.9 L517.6 262.4 L518.8 262.9 L520.0 263.4 L521.1 263.9 L522.3 264.3 L523.4 264.8 L524.6 265.3 L525.8 265.8 L526.9 266.3 L528.1 266.8 L529.2 267.3 L530.4 267.8 L531.6 268.2 L532.7 268.7 L533.9 269.2 L535.0 269.7 L536.2 270.2 L537.3 270.7 L538.5 271.2 L539.7 271.6 L540.8 272.1 L542.0 272.6 L543.1 273.1 L544.3 273.6 L545.5 274.1 L546.6 274.6 L547.8 275.1 L548.9 275.6 L550.1 276.1 L551.3 276.6 L552.4 277.1 L553.6 277.6 L554.7 278.0 L555.9 278.5 L557.0 279.0 L558.2 279.5 L559.4 280.0 L560.5 280.5 L561.7 281.0 L562.8 281.5 L564.0 282.0 L565.2 282.5 L566.3 283.0 L567.5 283.5 L568.6 284.0 L569.8 284.5 L571.0 285.0 L572.1 285.5 L573.3 286.0 L574.4 286.5 L575.6 287.0 L576.7 287.5 L577.9 288.0 L579.1 288.5 L580.2 289.0 L581.4 289.5 L582.5 290.0 L583.7 290.5 L584.9 291.0 L586.0 291.5 L587.2 291.9 L588.3 292.4 L589.5 292.9 L590.7 293.4 L591.8 293.8 L593.0 294.3 L594.1 294.8 L595.3 295.3 L596.4 295.7 L597.6 296.2 L598.8 296.7 L599.9 297.1 L601.1 297.6 L602.2 298.0 L603.4 298.5 L604.6 298.9 L605.7 299.4 L606.9 299.8 L608.0 300.3 L609.2 300.7 L610.4 301.2 L611.5 301.6 L612.7 302.1 L613.8 302.5 L615.0 303.0 L616.1 303.4 L617.3 303.8 L618.5 304.3 L619.6 304.7 L620.8 305.1 L621.9 305.6 L623.1 306.0 L624.3 306.4 L625.4 306.9 L626.6 307.3 L627.7 307.7 L628.9 308.1 L630.0 308.5 L631.2 309.0 L632.4 309.4 L633.5 309.8 L634.7 310.2 L635.8 310.6 L637.0 311.0 L638.2 311.4 L639.3 311.8 L640.5 312.2 L641.6 312.6 L642.8 313.0 L644.0 313.4 L645.1 313.8 L646.3 314.2 L647.4 314.6 L648.6 315.0 L649.7 315.4 L650.9 315.8 L652.1 316.2 L653.2 316.5 L654.4 316.9 L655.5 317.3 L656.7 317.7 L657.9 318.0 L659.0 318.4 L660.2 318.8 L661.3 319.2 L662.5 319.5 L663.7 319.9 L664.8 320.3 L666.0 320.7 L667.1 321.0 L668.3 321.4 L669.4 321.8 L670.6 322.1 L671.8 322.5 L672.9 322.9 L674.1 323.2 L675.2 323.6 L676.4 324.0 L677.6 324.3 L678.7 324.7 L679.9 325.1 L681.0 325.4 L682.2 325.8 L683.4 326.2 L684.5 326.6 L685.7 326.9 L686.8 327.3 L688.0 327.7 L689.1 328.0 L690.3 328.4 L691.5 328.8 L692.6 329.1 L693.8 329.5 L694.9 329.9 L696.1 330.2 L697.3 330.6 L698.4 331.0 L699.6 331.4 L700.7 331.7 L701.9 332.1 L703.1 332.5 L704.2 332.8 L705.4 333.2 L706.5 333.5 L707.7 333.9 L708.8 334.3 L710.0 334.6 L711.2 335.0 L712.3 335.4 L713.5 335.7 L714.6 336.1 L715.8 336.4 L717.0 336.8 L718.1 337.1 L719.3 337.5 L720.4 337.9 L721.6 338.2 L722.8 338.6 L723.9 338.9 L725.1 339.3 L726.2 339.6 L727.4 340.0 L728.5 340.3 L729.7 340.7 L730.9 341.0 L732.0 341.4 L733.2 341.7 L734.3 342.0 L735.5 342.4 L736.7 342.7 L737.8 343.1 L739.0 343.4 L740.1 343.8 L741.3 344.1 L742.4 344.5 L743.6 344.8 L744.8 345.1 L745.9 345.5 L747.1 345.8 L748.2 346.1 L749.4 346.5 L750.6 346.8 L751.7 347.1 L752.9 347.5 L754.0 347.8 L755.2 348.1 L756.4 348.4 L757.5 348.7 L758.7 349.1 L759.8 349.4 L761.0 349.7 L762.1 350.0 L763.3 350.3 L764.5 350.6 L765.6 350.9 L766.8 351.2 L767.9 351.5 L769.1 351.7 L770.3 352.0 L771.4 352.3 L772.6 352.6 L773.7 352.9 L774.9 353.1 L776.1 353.4 L777.2 353.7 L778.4 353.9 L779.5 354.2 L780.7 354.4 L781.8 354.6 L783.0 354.8 L784.2 355.0 L785.3 355.2 L786.5 355.3 L787.6 355.5 L788.8 356.2"/>
<path stroke="#0000ff" stroke-dasharray="4.2 5.3" stroke-dashoffset="3.58" d="M94.7 98.8 L95.9 99.6 L97.0 99.8 L98.2 99.9 L99.3 100.1 L100.5 100.4 L101.7 100.6 L102.8 100.8 L104.0 101.1 L105.1 101.4 L106.3 101.6 L107.4 101.9 L108.6 102.2 L109.8 102.5 L110.9 102.8 L112.1 103.1 L113.2 103.4 L114.4 103.7 L115.6 104.0 L116.7 104.3 L117.9 104.6 L119.0 104.9 L120.2 105.3 L121.4 105.6 L122.5 105.9 L123.7 106.2 L124.8 106.5 L126.0 106.8 L127.1 107.2 L128.3 107.5 L129.5 107.8 L130.6 108.1 L131.8 108.4 L132.9 108.8 L134.1 109.1 L135.3 109.4 L136.4 109.8 L137.6 110.1 L138.7 110.4 L139.9 110.8 L141.1 111.1 L142.2 111.5 L143.4 111.8 L144.5 112.1 L145.7 112.5 L146.8 112.8 L148.0 113.2 L149.2 113.5 L150.3 113.9 L151.5 114.3 L152.6 114.6 L153.8 115.0 L155.0 115.3 L156.1 115.7 L157.3 116.1 L158.4 116.5 L159.6 116.8 L160.7 117.2 L161.9 117.6 L163.1 117.9 L164.2 118.3 L165.4 118.7 L166.5 119.1 L167.7 119.5 L168.9 119.8 L170.0 120.2 L171.2 120.6 L172.3 121.0 L173.5 121.4 L174.7 121.8 L175.8 122.2 L177.0 122.6 L178.1 123.0 L179.3 123.3 L180.4 123.7 L181.6 124.1 L182.8 124.5 L183.9 124.9 L185.1 125.3 L186.2 125.7 L187.4 126.1 L188.6 126.5 L189.7 127.0 L190.9 127.4 L192.0 127.8 L193.2 128.2 L194.4 128.6 L195.5 129.0 L196.7 129.4 L197.8 129.8 L199.0 130.2 L200.1 130.6 L201.3 131.0 L202.5 131.4 L203.6 131.8 L204.8 132.2 L205.9 132.6 L207.1 133.0 L208.3 133.4 L209.4 133.8 L210.6 134.2 L211.7 134.6 L212.9 134.9 L214.1 135.3 L215.2 135.7 L216.4 136.1 L217.5 136.5 L218.7 136.9 L219.8 137.3 L221.0 137.7 L222.2 138.0 L223.3 138.4 L224.5 138.8 L225.6 139.2 L226.8 139.6 L228.0 140.0 L229.1 140.4 L230.3 140.8 L231.4 141.2 L232.6 141.6 L233.8 142.1 L234.9 142.5 L236.1 142.9 L237.2 143.3 L238.4 143.8 L239.5 144.2 L240.7 144.7 L241.9 145.1 L243.0 145.6 L244.2 146.0 L245.3 146.5 L246.5 147.0 L247.7 147.5 L248.8 147.9 L250.0 148.4 L251.1 148.9 L252.3 149.4 L253.5 149.9 L254.6 150.4 L255.8 150.9 L256.9 151.4 L258.1 152.0 L259.2 152.5 L260.4 153.0 L261.6 153.5 L262.7 154.0 L263.9 154.5 L265.0 155.1 L266.2 155.6 L267.4 156.1 L268.5 156.6 L269.7 157.1 L270.8 157.7 L272.0 158.2 L273.1 158.7 L274.3 159.2 L275.5 159.7 L276.6 160.2 L277.8 160.8 L278.9 161.3 L280.1 161.8 L281.3 162.3 L282.4 162.8 L283.6 163.3 L284.7 163.8 L285.9 164.3 L287.1 164.8 L288.2 165.3 L289.4 165.8 L290.5 166.3 L291.7 166.8 L292.8 167.3 L294.0 167.9 L295.2 168.4 L296.3 168.9 L297.5 169.4 L298.6 169.9 L299.8 170.4 L301.0 170.9 L302.1 171.4 L303.3 171.9 L304.4 172.5 L305.6 173.0 L306.8 173.5 L307.9 174.0 L309.1 174.5 L310.2 175.1 L311.4 175.6 L312.5 176.1 L313.7 176.6 L314.9 177.2 L316.0 177.7 L317.2 178.2 L318.3 178.8 L319.5 179.3 L320.7 179.9 L321.8 180.4 L323.0 181.0 L324.1 181.5 L325.3 182.1 L326.5 182.6 L327.6 183.2 L328.8 183.7 L329.9 184.3 L331.1 184.8 L332.2 185.4 L333.4 186.0 L334.6 186.5 L335.7 187.1 L336.9 187.6 L338.0 188.2 L339.2 188.8 L340.4 189.4 L341.5 189.9 L342.7 190.5 L343.8 191.1 L345.0 191.7 L346.2 192.3 L347.3 192.8 L348.5 193.4 L349.6 194.0 L350.8 194.6 L351.9 195.2 L353.1 195.8 L354.3 196.4 L355.4 197.0 L356.6 197.6 L357.7 198.2 L358.9 198.8 L360.1 199.5 L361.2 200.1 L362.4 200.7 L363.5 201.3 L364.7 201.9 L365.9 202.6 L367.0 203.2 L368.2 203.8 L369.3 204.5 L370.5 205.1 L371.6 205.7 L372.8 206.4 L374.0 207.0 L375.1 207.6 L376.3 208.3 L377.4 208.9 L378.6 209.5 L379.8 210.2 L380.9 210.8 L382.1 211.4 L383.2 212.1 L384.4 212.7 L385.5 213.3 L386.7 214.0 L387.9 214.6 L389.0 215.2 L390.2 215.9 L391.3 216.5 L392.5 217.1 L393.7 217.7 L394.8 218.3 L396.0 219.0 L397.1 219.6 L398.3 220.2 L399.5 220.8 L400.6 221.4 L401.8 222.0 L402.9 222.6 L404.1 223.3 L405.2 223.9 L406.4 224.5 L407.6 225.1 L408.7 225.7 L409.9 226.3 L411.0 226.9 L412.2 227.5 L413.4 228.2 L414.5 228.8 L415.7 229.4 L416.8 230.0 L418.0 230.6 L419.2 231.2 L420.3 231.9 L421.5 232.5 L422.6 233.1 L423.8 233.7 L424.9 234.4 L426.1 235.0 L427.3 235.6 L428.4 236.3 L429.6 236.9 L430.7 237.6 L431.9 238.2 L433.1 238.9 L434.2 239.5 L435.4 240.1 L436.5 240.8 L437.7 241.4 L438.9 242.1 L440.0 242.7 L441.2 243.4 L442.3 244.0 L443.5 244.6 L444.6 245.3 L445.8 245.9 L447.0 246.5 L448.1 247.2 L449.3 247.8 L450.4 248.4 L451.6 249.0 L452.8 249.6 L453.9 250.3 L455.1 250.9 L456.2 251.5 L457.4 252.1 L458.6 252.7 L459.7 253.3 L460.9 253.9 L462.0 254.5 L463.2 255.1 L464.3 255.8 L465.5 256.4 L466.7 257.0 L467.8 257.6 L469.0 258.2 L470.1 258.8 L471.3 259.4 L472.5 260.0 L473.6 260.7 L474.8 261.3 L475.9 261.9 L477.1 262.5 L478.3 263.1 L479.4 263.7 L480.6 264.4 L481.7 265.0 L482.9 265.6 L484.0 266.2 L485.2 266.8 L486.4 267.5 L487.5 268.1 L488.7 268.7 L489.8 269.3 L491.0 269.9 L492.2 270.6 L493.3 271.2 L494.5 271.8 L495.6 272.4 L496.8 273.1 L498.0 273.7 L499.1 274.3 L500.3 274.9 L501.4 275.6 L502.6 276.2 L503.7 276.8 L504.9 277.4 L506.1 278.1 L507.2 278.7 L508.4 279.3 L509.5 280.0 L510.7 280.6 L511.9 281.2 L513.0 281.8 L514.2 282.5 L515.3 283.1 L516.5 283.7 L517.6 284.4 L518.8 285.0 L520.0 285.6 L521.1 286.2 L522.3 286.8 L523.4 287.5 L524.6 288.1 L525.8 288.7 L526.9 289.3 L528.1 289.9 L529.2 290.5 L530.4 291.1 L531.6 291.7 L532.7 292.3 L533.9 292.9 L535.0 293.5 L536.2 294.0 L537.3 294.6 L538.5 295.2 L539.7 295.8 L540.8 296.3 L542.0 296.9 L543.1 297.5 L544.3 298.0 L545.5 298.6 L546.6 299.1 L547.8 299.7 L548.9 300.2 L550.1 300.8 L551.3 301.3 L552.4 301.9 L553.6 302.4 L554.7 303.0 L555.9 303.5 L557.0 304.0 L558.2 304.6 L559.4 305.1 L560.5 305.6 L561.7 306.2 L562.8 306.7 L564.0 307.2 L565.2 307.8 L566.3 308.3 L567.5 308.9 L568.6 309.4 L569.8 309.9 L571.0 310.5 L572.1 311.0 L573.3 311.5 L574.4 312.1 L575.6 312.6 L576.7 313.2 L577.9 313.7 L579.1 314.2 L580.2 314.8 L581.4 315.3 L582.5 315.9 L583.7 316.4 L584.9 317.0 L586.0 317.5 L587.2 318.0 L588.3 318.6 L589.5 319.1 L590.7 319.7 L591.8 320.2 L593.0 320.7 L594.1 321.3 L595.3 321.8 L596.4 322.3 L597.6 322.9 L598.8 323.4 L599.9 323.9 L601.1 324.4 L602.2 325.0 L603.4 325.5 L604.6 326.0 L605.7 326.5 L606.9 327.0 L608.0 327.5 L609.2 328.1 L610.4 328.6 L611.5 329.1 L612.7 329.6 L613.8 330.1 L615.0 330.6 L616.1 331.1 L617.3 331.6 L618.5 332.1 L619.6 332.6 L620.8 333.0 L621.9 333.5 L623.1 334.0 L624.3 334.5 L625.4 335.0 L626.6 335.5 L627.7 335.9 L628.9 336.4 L630.0 336.9 L631.2 337.4 L632.4 337.8 L633.5 338.3 L634.7 338.8 L635.8 339.2 L637.0 339.7 L638.2 340.1 L639.3 340.6 L640.5 341.1 L641.6 341.5 L642.8 342.0 L644.0 342.4 L645.1 342.9 L646.3 343.3 L647.4 343.7 L648.6 344.2 L649.7 344.6 L650.9 345.1 L652.1 345.5 L653.2 345.9 L654.4 346.4 L655.5 346.8 L656.7 347.2 L657.9 347.6 L659.0 348.1 L660.2 348.5 L661.3 348.9 L662.5 349.3 L663.7 349.8 L664.8 350.2 L666.0 350.6 L667.1 351.0 L668.3 351.4 L669.4 351.9 L670.6 352.3 L671.8 352.7 L672.9 353.1 L674.1 353.5 L675.2 353.9 L676.4 354.3 L677.6 354.7 L678.7 355.2 L679.9 355.6 L681.0 356.0 L682.2 356.4 L683.4 356.8 L684.5 357.2 L685.7 357.6 L686.8 358.0 L688.0 358.4 L689.1 358.8 L690.3 359.2 L691.5 359.6 L692.6 360.0 L693.8 360.4 L694.9 360.8 L696.1 361.2 L697.3 361.7 L698.4 362.1 L699.6 362.5 L700.7 362.9 L701.9 363.2 L703.1 363.6 L704.2 364.0 L705.4 364.4 L706.5 364.8 L707.7 365.2 L708.8 365.6 L710.0 366.0 L711.2 366.4 L712.3 366.7 L713.5 367.1 L714.6 367.5 L715.8 367.9 L717.0 368.2 L718.1 368.6 L719.3 369.0 L720.4 369.3 L721.6 369.7 L722.8 370.0 L723.9 370.4 L725.1 370.7 L726.2 371.1 L727.4 371.4 L728.5 371.8 L729.7 372.1 L730.9 372.4 L732.0 372.8 L733.2 373.1 L734.3 373.4 L735.5 373.8 L736.7 374.1 L737.8 374.4 L739.0 374.8 L740.1 375.1 L741.3 375.4 L742.4 375.7 L743.6 376.0 L744.8 376.3 L745.9 376.7 L747.1 377.0 L748.2 377.3 L749.4 377.6 L750.6 377.9 L751.7 378.2 L752.9 378.5 L754.0 378.8 L755.2 379.1 L756.4 379.3 L757.5 379.6 L758.7 379.9 L759.8 380.2 L761.0 380.5 L762.1 380.7 L763.3 381.0 L764.5 381.3 L765.6 381.6 L766.8 381.8 L767.9 382.1 L769.1 382.3 L770.3 382.6 L771.4 382.8 L772.6 383.1 L773.7 383.3 L774.9 383.5 L776.1 383.8 L777.2 384.0 L778.4 384.2 L779.5 384.5 L780.7 384.7 L781.8 384.8 L783.0 385.0 L784.2 385.2 L785.3 385.3 L786.5 385.5 L787.6 385.6 L788.8 386.2"/>
</g>
<g stroke="#000" stroke-width="1.35" fill="#000">
<path fill="none" d="M328.6 116.9V134.7M325.8 116.9H331.4M325.8 134.7H331.4"/>
<circle cx="328.6" cy="126.0" r="2" stroke="none"/>
<path fill="none" d="M345.9 116.9V152.8M343.1 116.9H348.7M343.1 152.8H348.7"/>
<circle cx="345.9" cy="134.7" r="2" stroke="none"/>
<path fill="none" d="M363.4 147.8V156.5M360.6 147.8H366.2M360.6 156.5H366.2"/>
<circle cx="363.4" cy="152.0" r="2" stroke="none"/>
<path fill="none" d="M380.7 162.0V176.0M377.9 162.0H383.5M377.9 176.0H383.5"/>
<circle cx="380.7" cy="169.1" r="2" stroke="none"/>
<path fill="none" d="M398.0 194.8V209.8M395.2 194.8H400.8M395.2 209.8H400.8"/>
<circle cx="398.0" cy="202.3" r="2" stroke="none"/>
<path fill="none" d="M415.6 226.9V237.4M412.8 226.9H418.4M412.8 237.4H418.4"/>
<circle cx="415.6" cy="231.9" r="2" stroke="none"/>
<path fill="none" d="M432.6 255.4V271.2M429.8 255.4H435.4M429.8 271.2H435.4"/>
<circle cx="432.6" cy="263.2" r="2" stroke="none"/>
<path fill="none" d="M450.1 303.0V319.3M447.3 303.0H452.9M447.3 319.3H452.9"/>
<circle cx="450.1" cy="311.3" r="2" stroke="none"/>
<path fill="none" d="M467.7 340.6V351.9M464.9 340.6H470.5M464.9 351.9H470.5"/>
<circle cx="467.7" cy="346.4" r="2" stroke="none"/>
<path fill="none" d="M485.0 370.7V385.2M482.2 370.7H487.8M482.2 385.2H487.8"/>
<circle cx="485.0" cy="377.7" r="2" stroke="none"/>
<path fill="none" d="M502.3 391.4V403.6M499.5 391.4H505.1M499.5 403.6H505.1"/>
<circle cx="502.3" cy="397.5" r="2" stroke="none"/>
<path fill="none" d="M519.6 403.6V416.3M516.8 403.6H522.4M516.8 416.3H522.4"/>
<circle cx="519.6" cy="409.9" r="2" stroke="none"/>
<path fill="none" d="M537.1 418.1V425.5M534.3 418.1H539.9M534.3 425.5H539.9"/>
<circle cx="537.1" cy="421.8" r="2" stroke="none"/>
<path fill="none" d="M554.4 424.2V435.3M551.6 424.2H557.2M551.6 435.3H557.2"/>
<circle cx="554.4" cy="429.8" r="2" stroke="none"/>
<path fill="none" d="M571.9 429.8V439.0M569.1 429.8H574.7M569.1 439.0H574.7"/>
<circle cx="571.9" cy="434.4" r="2" stroke="none"/>
<path fill="none" d="M589.2 437.1V442.3M586.4 437.1H592.0M586.4 442.3H592.0"/>
<circle cx="589.2" cy="439.5" r="2" stroke="none"/>
<path fill="none" d="M606.4 439.5V448.5M603.6 439.5H609.2M603.6 448.5H609.2"/>
<circle cx="606.4" cy="443.9" r="2" stroke="none"/>
<path fill="none" d="M624.2 444.9V450.6M621.4 444.9H627.0M621.4 450.6H627.0"/>
<circle cx="624.2" cy="447.6" r="2" stroke="none"/>
<path fill="none" d="M641.0 444.9V452.4M638.2 444.9H643.8M638.2 452.4H643.8"/>
<circle cx="641.0" cy="448.5" r="2" stroke="none"/>
<path fill="none" d="M658.7 449.1V455.2M655.9 449.1H661.5M655.9 455.2H661.5"/>
<circle cx="658.7" cy="451.9" r="2" stroke="none"/>
</g>
<g stroke="#000" fill="none" stroke-linecap="butt">
<rect x="94.7" y="42.8" width="694.1" height="428.0" stroke-width="3.2"/>
<path stroke-width="4.2" d="M94.7 470.8v-13.6M94.7 42.8v13.6M268.2 470.8v-13.6M268.2 42.8v13.6M441.8 470.8v-13.6M441.8 42.8v13.6M615.3 470.8v-13.6M615.3 42.8v13.6M788.8 470.8v-13.6M788.8 42.8v13.6M94.7 470.8h13.6M788.8 470.8h-13.6M94.7 389.2h13.6M788.8 389.2h-13.6M94.7 307.6h13.6M788.8 307.6h-13.6M94.7 226.1h13.6M788.8 226.1h-13.6M94.7 144.5h13.6M788.8 144.5h-13.6M94.7 62.9h13.6M788.8 62.9h-13.6"/>
<path stroke-width="2.7" d="M129.4 470.8v-6.8M129.4 42.8v6.8M164.1 470.8v-6.8M164.1 42.8v6.8M198.8 470.8v-6.8M198.8 42.8v6.8M233.5 470.8v-6.8M233.5 42.8v6.8M302.9 470.8v-6.8M302.9 42.8v6.8M337.6 470.8v-6.8M337.6 42.8v6.8M372.3 470.8v-6.8M372.3 42.8v6.8M407.0 470.8v-6.8M407.0 42.8v6.8M476.5 470.8v-6.8M476.5 42.8v6.8M511.2 470.8v-6.8M511.2 42.8v6.8M545.9 470.8v-6.8M545.9 42.8v6.8M580.6 470.8v-6.8M580.6 42.8v6.8M650.0 470.8v-6.8M650.0 42.8v6.8M684.7 470.8v-6.8M684.7 42.8v6.8M719.4 470.8v-6.8M719.4 42.8v6.8M754.1 470.8v-6.8M754.1 42.8v6.8M94.7 450.4h6.8M788.8 450.4h-6.8M94.7 430.0h6.8M788.8 430.0h-6.8M94.7 409.6h6.8M788.8 409.6h-6.8M94.7 368.8h6.8M788.8 368.8h-6.8M94.7 348.4h6.8M788.8 348.4h-6.8M94.7 328.0h6.8M788.8 328.0h-6.8M94.7 287.2h6.8M788.8 287.2h-6.8M94.7 266.9h6.8M788.8 266.9h-6.8M94.7 246.5h6.8M788.8 246.5h-6.8M94.7 205.7h6.8M788.8 205.7h-6.8M94.7 185.3h6.8M788.8 185.3h-6.8M94.7 164.9h6.8M788.8 164.9h-6.8M94.7 124.1h6.8M788.8 124.1h-6.8M94.7 103.7h6.8M788.8 103.7h-6.8M94.7 83.3h6.8M788.8 83.3h-6.8"/>
</g>
<g style="filter:grayscale(1)">
<text x="92.2" y="482.9" font-size="35" text-anchor="end">0.0</text>
<text x="92.2" y="401.3" font-size="35" text-anchor="end">0.2</text>
<text x="92.2" y="319.7" font-size="35" text-anchor="end">0.4</text>
<text x="92.2" y="238.2" font-size="35" text-anchor="end">0.6</text>
<text x="92.2" y="156.6" font-size="35" text-anchor="end">0.8</text>
<text x="92.2" y="75.0" font-size="35" text-anchor="end">1.0</text>
<text transform="translate(58.37 505.6) scale(1.0159 1)" font-size="35">−100</text>
<text transform="translate(243.88 505.6) scale(1.0588 1)" font-size="35">−50</text>
<text transform="translate(440.99 505.6) scale(1.1067 1)" font-size="35">0</text>
<text transform="translate(601.23 505.6) scale(1.0344 1)" font-size="35">50</text>
<text transform="translate(763.89 505.6) scale(0.9688 1)" font-size="35">100</text>
<text transform="translate(339.51 551.7) scale(1.0474 1)" font-size="33.5" font-style="italic">T</text>
<text transform="translate(369.70 551.7) scale(1.1000 1)" font-size="34">−</text>
<text transform="translate(400.01 551.7) scale(1.0474 1)" font-size="33.5" font-style="italic">T</text>
<text transform="translate(418.74 556.1) scale(1.0650 1)" font-size="23">pc</text>
<text transform="translate(451.26 551.7) scale(1.0128 1)" font-size="33.5">[MeV]</text>
<text transform="translate(590.78 84.6) scale(1.0232 1)" font-size="21.8">QM m</text>
<text transform="translate(647.95 84.6) scale(1.3500 1)" font-size="21.8" font-style="italic">σ</text>
<text transform="translate(662.79 84.6) scale(1.0074 1)" font-size="21.8">=400 MeV</text>
<text transform="translate(590.78 124.3) scale(1.0232 1)" font-size="21.8">QM m</text>
<text transform="translate(647.95 124.3) scale(1.3500 1)" font-size="21.8" font-style="italic">σ</text>
<text transform="translate(662.79 124.3) scale(1.0074 1)" font-size="21.8">=800 MeV</text>
<text transform="translate(591.08 164.0) scale(1.0206 1)" font-size="21.8">PQM m</text>
<text transform="translate(660.68 164.0) scale(1.3200 1)" font-size="21.8" font-style="italic">σ</text>
<text transform="translate(675.19 164.0) scale(1.0074 1)" font-size="21.8">=400 MeV</text>
<text transform="translate(590.45 202.5) scale(1.1455 1)" font-size="21.8">L</text>
<text transform="translate(603.81 202.5) scale(1.1900 1)" font-size="21.8" font-style="italic">σ</text>
<text transform="translate(617.11 202.5) scale(1.0875 1)" font-size="21.8">M m</text>
<text transform="translate(660.60 202.5) scale(1.3000 1)" font-size="21.8" font-style="italic">σ</text>
<text transform="translate(675.40 202.5) scale(1.0021 1)" font-size="21.8">=400 MeV</text>
<text transform="translate(590.45 245.3) scale(1.1455 1)" font-size="21.8">L</text>
<text transform="translate(603.81 245.3) scale(1.1900 1)" font-size="21.8" font-style="italic">σ</text>
<text transform="translate(617.11 245.3) scale(1.0875 1)" font-size="21.8">M m</text>
<text transform="translate(660.60 245.3) scale(1.3000 1)" font-size="21.8" font-style="italic">σ</text>
<text transform="translate(675.40 245.3) scale(1.0021 1)" font-size="21.8">=800 MeV</text>
<g transform="translate(31.3 286.5) rotate(-90)" font-style="italic">
<text transform="translate(-1.25 -0.00) scale(1.253 0.910)" font-size="34">σ</text>
<text transform="translate(22.76 4.60) scale(0.762 1.300)" font-size="34">/</text>
<text transform="translate(34.07 -0.00) skewX(-12) scale(1.029 0.990)" font-size="34">f</text>
<text transform="translate(48.50 4.60) scale(0.723 1.000)" font-size="25">π</text>
</g>
</g>
<rect x="527.7" y="73.8" width="22.0" height="5.4" fill="#ff0000"/>
<rect x="555.2" y="73.8" width="10.8" height="5.4" fill="#ff0000"/>
<rect x="571.5" y="73.8" width="7.9" height="5.4" fill="#ff0000"/>
<rect x="527.7" y="113.7" width="7.1" height="5.4" fill="#ff0000"/>
<rect x="543.6" y="113.7" width="7.4" height="5.4" fill="#ff0000"/>
<rect x="559.8" y="113.7" width="7.4" height="5.4" fill="#ff0000"/>
<rect x="576.3" y="113.7" width="3.1" height="5.4" fill="#ff0000"/>
<rect x="527.7" y="152.8" width="51.7" height="5.4" fill="#33cc33"/>
<rect x="527.7" y="191.7" width="21.8" height="5.4" fill="#0000ff"/>
<rect x="554.6" y="191.7" width="5.5" height="5.4" fill="#0000ff"/>
<rect x="565.4" y="191.7" width="14.0" height="5.4" fill="#0000ff"/>
<rect x="527.7" y="233.9" width="3.7" height="5.4" fill="#0000ff"/>
<rect x="537.0" y="233.9" width="4.6" height="5.4" fill="#0000ff"/>
<rect x="546.5" y="233.9" width="4.6" height="5.4" fill="#0000ff"/>
<rect x="556.1" y="233.9" width="4.6" height="5.4" fill="#0000ff"/>
<rect x="565.7" y="233.9" width="4.6" height="5.4" fill="#0000ff"/>
<rect x="574.8" y="233.9" width="4.6" height="5.4" fill="#0000ff"/>
</svg></body></html>
